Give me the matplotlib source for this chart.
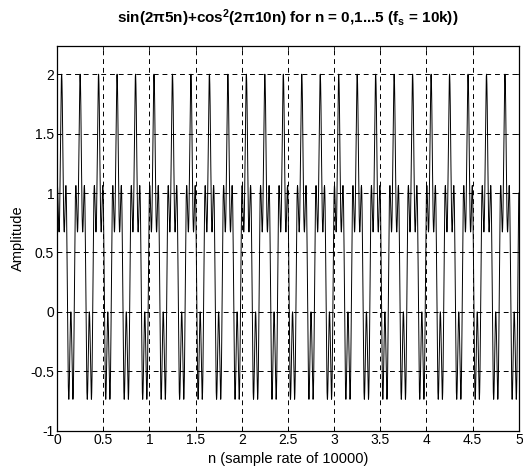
import numpy as np
import matplotlib
matplotlib.use("Agg")
import matplotlib.pyplot as plt

# Signal parameters, as stated in the title
f_sin = 5          # Hz, sine term
f_cos = 10         # Hz, cosine-squared term
fs = 10000         # sample rate
duration = 5       # seconds

x_ticks = [0, 0.5, 1, 1.5, 2, 2.5, 3, 3.5, 4, 4.5, 5]
x_tick_labels = ["0", "0.5", "1", "1.5", "2", "2.5", "3", "3.5", "4", "4.5", "5"]
y_ticks = [-1, -0.5, 0, 0.5, 1, 1.5, 2]
y_tick_labels = ["-1", "-0.5", "0", "0.5", "1", "1.5", "2"]

n = np.arange(0, duration * fs + 1) / fs
amplitude = np.sin(2 * np.pi * f_sin * n) + np.cos(2 * np.pi * f_cos * n) ** 2

plt.rcParams["font.family"] = ["Liberation Sans", "DejaVu Sans"]
plt.rcParams["mathtext.fontset"] = "custom"
plt.rcParams["mathtext.rm"] = "Liberation Sans:bold"
plt.rcParams["mathtext.it"] = "Liberation Sans:bold"
plt.rcParams["mathtext.bf"] = "Liberation Sans:bold"

fig = plt.figure(figsize=(5.23, 4.73), dpi=100)
ax = fig.add_axes([0.109, 0.0894, 0.883, 0.814])

ax.plot(n, amplitude, color="black", linewidth=0.7, antialiased=True)

ax.set_xlim(0, 5)
ax.set_ylim(-1, 2.24)
ax.set_xticks(x_ticks)
ax.set_xticklabels(x_tick_labels)
ax.set_yticks(y_ticks)
ax.set_yticklabels(y_tick_labels)
ax.tick_params(direction="in", length=3, labelsize=10, width=0.6, pad=2,
               top=True, right=True)
ax.grid(True, color="black", linestyle=(0, (5, 4)), linewidth=0.7)
for s in ax.spines.values():
    s.set_linewidth(0.9)

ax.set_xlabel("n (sample rate of 10000)", fontsize=10.5, labelpad=3)
ax.set_ylabel("Amplitude", fontsize=10.5, labelpad=4)
ax.set_title(r"sin(2$\pi$5n)+cos$^{2}$(2$\pi$10n) for n = 0,1...5 (f$_{s}$ = 10k))",
             fontsize=11, fontweight="bold", pad=16)

fig.savefig("out.png", dpi=100)
